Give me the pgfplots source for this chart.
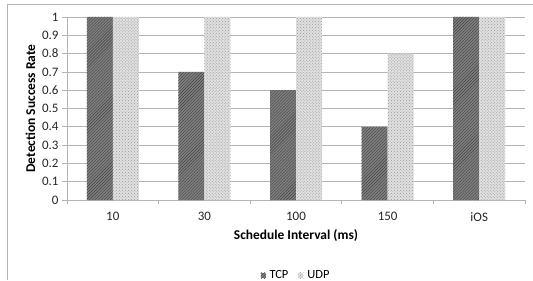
\documentclass[border=0pt]{standalone}
\usepackage{pgfplots}
\pgfplotsset{compat=1.18}
\usepackage{fontspec}
\setmainfont{Carlito}
\usetikzlibrary{patterns}
\definecolor{gridgray}{RGB}{180,180,180}
\begin{document}
\begin{tikzpicture}[x=1bp,y=1bp]
\useasboundingbox (0,0) rectangle (533,280);
\draw[gridgray,line width=1bp] (7,0) -- (7,275) -- (540,275);
\begin{axis}[
  at={(67bp,80bp)}, anchor=south west,
  scale only axis, width=458bp, height=183bp,
  ybar=0pt, bar width=26bp,
  xmin=-0.5, xmax=4.5, ymin=0, ymax=1,
  xtick={0,1,2,3,4},
  xticklabels={10,30,100,150,iOS},
  minor xtick={-0.5,0.5,1.5,2.5,3.5,4.5},
  ytick={0,0.1,...,1.0},
  yticklabel style={/pgf/number format/fixed,/pgf/number format/precision=1},
  /pgf/number format/assume math mode=true,
  axis x line*=bottom, axis y line*=left,
  axis line style={gridgray, line width=0.8bp},
  ymajorgrids, grid style={gridgray, line width=0.8bp},
  x tick style={draw=none},
  y tick style={gridgray, line width=0.8bp},
  major tick length=5bp,
  minor tick length=4bp,
  tick align=outside,
  minor x tick style={draw=gridgray, line width=0.8bp},
  tick label style={font=\fontsize{13}{15}\selectfont, text=black!85},
  xticklabel style={yshift=-4bp},
  xlabel={\textbf{Schedule Interval (ms)}},
  ylabel={\textbf{Detection Success Rate}},
  label style={font=\fontsize{13.5}{15}\selectfont},
  xlabel style={yshift=-1bp},
  ylabel style={yshift=0bp},
  legend style={at={(0.5,-0.41)}, anchor=center, draw=none, legend columns=2,
    font=\fontsize{12.5}{14}\selectfont,
    /tikz/every odd column/.append style={column sep=2bp},
    /tikz/every even column/.append style={column sep=8bp}},
  legend image code/.code={\draw[#1,draw=none] (0bp,-3bp) rectangle (5bp,2.5bp);},
  clip=false,
]
\addplot[draw=none, fill=black!50, postaction={pattern=north east lines, pattern color=black!75}]
  coordinates {(0,1) (1,0.7) (2,0.6) (3,0.4) (4,1)};
\addplot[draw=none, fill=black!12, postaction={pattern=crosshatch dots, pattern color=black!40}]
  coordinates {(0,1) (1,1) (2,1) (3,0.8) (4,1)};
\legend{TCP,UDP}
\end{axis}
\end{tikzpicture}
\end{document}
